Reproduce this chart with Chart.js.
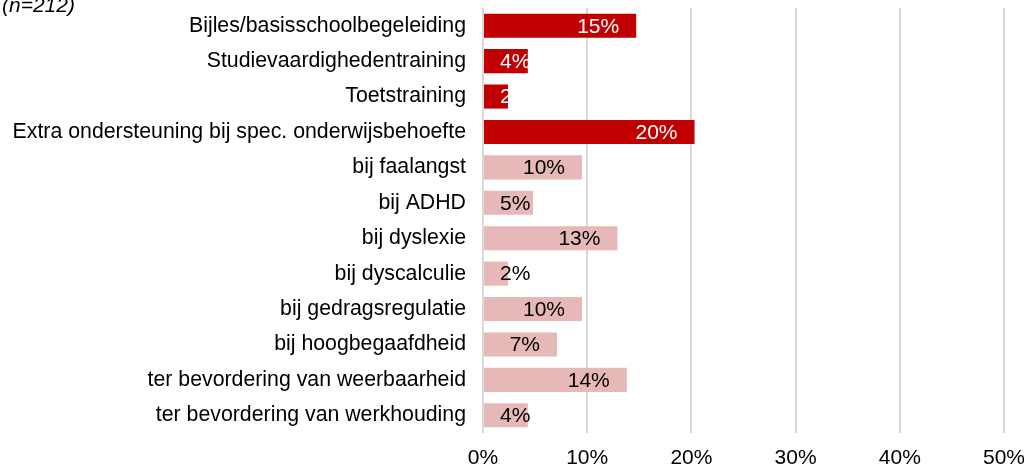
<!DOCTYPE html>
<html>
<head>
<meta charset="utf-8">
<script src="https://cdn.jsdelivr.net/npm/chart.js@4/dist/chart.umd.min.js"></script>
<style>
  html, body { margin: 0; padding: 0; background: #fff; overflow: hidden; }
  #wrap { position: relative; width: 1024px; height: 467px; }
  #note { position: absolute; left: 2px; top: -7px; font: italic 21px "Liberation Sans", Arial, sans-serif; line-height: 24px; color: #000; }
  canvas { position: absolute; left: 0; top: 0; }
</style>
</head>
<body>
<div id="wrap">
  <canvas id="mycanvas" width="1024" height="467"></canvas>
  <div id="note">(n=212)</div>
</div>
<script>
var categories = [
    'Bijles/basisschoolbegeleiding',
    'Studievaardighedentraining',
    'Toetstraining',
    'Extra ondersteuning bij spec. onderwijsbehoefte',
    'bij faalangst',
    'bij ADHD',
    'bij dyslexie',
    'bij dyscalculie',
    'bij gedragsregulatie',
    'bij hoogbegaafdheid',
    'ter bevordering van weerbaarheid',
    'ter bevordering van werkhouding'
];
var values = [14.7, 4.3, 2.4, 20.3, 9.5, 4.8, 12.9, 2.4, 9.5, 7.1, 13.8, 4.3];
var mainGroupCount = 4;
var xTicks = [0, 10, 20, 30, 40, 50];

var red = '#c00000';
var pink = '#e6b9b8';
var fontName = '"Liberation Sans", Arial, sans-serif';

// value labels at the end of each bar
var barLabels = {
    id: 'barLabels',
    afterDatasetsDraw: function(chart) {
        var ctx = chart.ctx;
        var meta = chart.getDatasetMeta(0);
        ctx.save();
        ctx.font = '21px ' + fontName;
        ctx.textAlign = 'right';
        ctx.textBaseline = 'middle';
        meta.data.forEach(function(bar, i) {
            var txt = Math.round(values[i]) + '%';
            var w = ctx.measureText(txt).width;
            var right = Math.max(bar.x - 17, bar.base + 16 + w);
            ctx.fillStyle = i < mainGroupCount ? '#fff' : '#000';
            ctx.fillText(txt, right, bar.y + 1);
        });
        ctx.restore();
    }
};

var ctx = document.getElementById('mycanvas');
var myChart = new Chart(ctx, {
    type: 'bar',
    data: {
        labels: categories,
        datasets: [{
            data: values,
            backgroundColor: function(c) { return c.dataIndex < mainGroupCount ? red : pink; },
            borderWidth: 0,
            categoryPercentage: 1,
            barPercentage: 0.68
        }]
    },
    options: {
        indexAxis: 'y',
        responsive: false,
        animation: false,
        layout: { padding: { top: 8, right: 0, left: 0, bottom: 0 } },
        plugins: {
            legend: { display: false },
            tooltip: { enabled: false }
        },
        scales: {
            x: {
                min: 0,
                max: 50,
                afterBuildTicks: function(scale) {
                    scale.ticks = xTicks.map(function(v) { return { value: v }; });
                },
                afterFit: function(scale) {
                    scale.height = 34;
                    scale.paddingLeft = 0;
                    scale.paddingRight = 20;
                },
                grid: { color: '#d9d9d9', lineWidth: 2, drawTicks: false },
                border: { display: false },
                ticks: {
                    padding: 13,
                    color: '#000',
                    font: { family: fontName, size: 21 },
                    callback: function(v) { return v + '%'; }
                }
            },
            y: {
                afterFit: function(scale) {
                    scale.width = 483;
                    scale.paddingTop = 0;
                    scale.paddingBottom = 0;
                },
                grid: { display: false, drawTicks: false },
                border: { display: false },
                ticks: {
                    padding: 17,
                    color: '#000',
                    font: { family: fontName, size: 21.3 }
                }
            }
        }
    },
    plugins: [barLabels]
});
</script>
</body>
</html>
